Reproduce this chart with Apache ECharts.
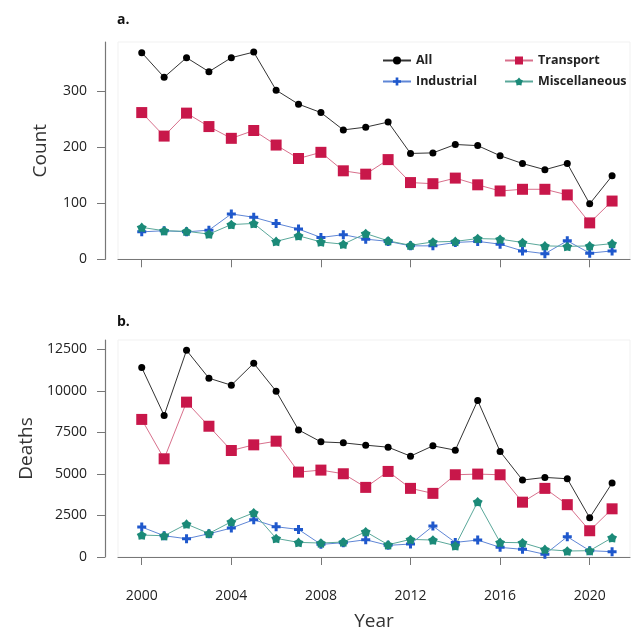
<!DOCTYPE html>
<html>
<head>
<meta charset="utf-8">
<script src="https://cdn.jsdelivr.net/npm/echarts@6/dist/echarts.min.js"></script>
<style>
  html, body { margin: 0; padding: 0; background: #fff; }
  #chart { width: 635px; height: 633px; }
</style>
</head>
<body>
<div id="chart"></div>
<script>
// 数据
const years = [2000, 2001, 2002, 2003, 2004, 2005, 2006, 2007, 2008, 2009, 2010,
  2011, 2012, 2013, 2014, 2015, 2016, 2017, 2018, 2019, 2020, 2021]
const xTicks = [2000, 2004, 2008, 2012, 2016, 2020]
const countTicks = [0, 100, 200, 300]
const deathTicks = [0, 2500, 5000, 7500, 10000, 12500]

// a. Count
const countAll = [369, 325, 360, 335, 360, 370, 302, 277, 262, 231, 236,
  245, 189, 190, 205, 203, 185, 171, 160, 171, 99, 149]
const countTransport = [262, 220, 261, 237, 216, 230, 204, 180, 191, 158, 152,
  178, 137, 135, 145, 133, 122, 125, 125, 115, 65, 104]
const countIndustrial = [49, 51, 49, 52, 81, 75, 64, 54, 39, 44, 36,
  32, 24, 24, 30, 32, 27, 15, 10, 33, 11, 15]
const countMisc = [57, 51, 50, 45, 62, 64, 32, 42, 31, 27, 46,
  33, 25, 31, 32, 37, 36, 30, 24, 23, 24, 28]

// b. Deaths
const deathAll = [11400, 8520, 12440, 10760, 10340, 11660, 9980, 7650, 6930, 6870, 6730,
  6610, 6070, 6690, 6430, 9420, 6350, 4630, 4790, 4710, 2360, 4450]
const deathTransport = [8280, 5910, 9320, 7870, 6410, 6750, 6970, 5110, 5230, 5010, 4190,
  5150, 4130, 3830, 4950, 4990, 4950, 3300, 4130, 3150, 1580, 2900]
const deathIndustrial = [1800, 1280, 1100, 1400, 1740, 2240, 1820, 1660, 760, 860, 1040,
  700, 780, 1860, 880, 1020, 580, 460, 160, 1220, 380, 320]
const deathMisc = [1320, 1280, 1980, 1420, 2120, 2660, 1120, 880, 840, 900, 1520,
  740, 1060, 1020, 680, 3320, 880, 860, 460, 360, 380, 1160]

const font = 'Open Sans'
const axisGrey = '#777'

// 符号
const plusPath = 'path://M3,0h3v3h3v3h-3v3h-3v-3h-3v-3h3z'
const starPath = 'path://M0,-10L4.11,-5.66L9.51,-3.09L6.66,2.16L5.88,8.09L0,7L-5.88,8.09L-6.66,2.16L-9.51,-3.09L-4.11,-5.66Z'

const styles = {
  All: { color: '#000000', line: '#333333', symbol: 'circle', size: 7 },
  Transport: { color: '#c8174a', line: '#d8708c', symbol: 'rect', size: 11 },
  Industrial: { color: '#1f58cc', line: '#5f86d6', symbol: plusPath, size: 9 },
  Miscellaneous: { color: '#1b8a78', line: '#5aa89a', symbol: starPath, size: 10 }
}

function pairs(vals) {
  return years.map((y, i) => [y, vals[i]])
}

function makeSeries(name, vals, idx) {
  const s = styles[name]
  return {
    name: name,
    type: 'line',
    xAxisIndex: idx,
    yAxisIndex: idx,
    data: pairs(vals),
    symbol: s.symbol,
    symbolSize: s.size,
    symbolKeepAspect: true,
    showSymbol: true,
    itemStyle: { color: s.color },
    lineStyle: { color: s.line, width: 1 },
    emphasis: { disabled: true },
    animation: false
  }
}

function plain(v) {
  return String(v)
}

function xAxis(idx, showLabels) {
  return {
    type: 'value',
    gridIndex: idx,
    min: 1998.94,
    max: 2021.8,
    offset: 13,
    splitLine: { show: false },
    axisLine: { show: true, lineStyle: { color: axisGrey, width: 1.2 } },
    axisTick: { show: true, customValues: xTicks, length: 8, lineStyle: { color: axisGrey } },
    axisLabel: {
      show: showLabels,
      customValues: xTicks,
      formatter: plain,
      margin: 19,
      fontFamily: font,
      fontSize: 14,
      color: '#222'
    },
    name: showLabels ? 'Year' : '',
    nameLocation: 'middle',
    nameGap: 42,
    nameTextStyle: { fontFamily: font, fontSize: 19, color: '#333' }
  }
}

function yAxis(idx, max, ticks, name, gap) {
  return {
    type: 'value',
    gridIndex: idx,
    min: 0,
    max: max,
    offset: 13,
    splitLine: { show: false },
    axisLine: { show: true, lineStyle: { color: axisGrey, width: 1.2 } },
    axisTick: { show: true, customValues: ticks, length: 8, lineStyle: { color: axisGrey } },
    axisLabel: {
      customValues: ticks,
      formatter: plain,
      margin: 18,
      fontFamily: font,
      fontSize: 14,
      color: '#222'
    },
    name: name,
    nameLocation: 'middle',
    nameGap: gap,
    nameTextStyle: { fontFamily: font, fontSize: 19, color: '#333' }
  }
}

const legendText = { fontFamily: font, fontSize: 12.5, fontWeight: 'bold', color: '#222' }

const option = {
  backgroundColor: '#ffffff',
  animation: false,
  title: [
    { text: 'a.', left: 112, top: 8, textStyle: { fontFamily: font, fontSize: 14, fontWeight: 'bold', color: '#111' } },
    { text: 'b.', left: 112, top: 310, textStyle: { fontFamily: font, fontSize: 14, fontWeight: 'bold', color: '#111' } }
  ],
  legend: [
    {
      data: ['All', 'Industrial'],
      orient: 'vertical',
      left: 377,
      top: 49,
      itemWidth: 28,
      itemHeight: 10,
      itemGap: 8,
      textStyle: legendText
    },
    {
      data: ['Transport', 'Miscellaneous'],
      orient: 'vertical',
      left: 499,
      top: 49,
      itemWidth: 28,
      itemHeight: 10,
      itemGap: 8,
      textStyle: legendText
    }
  ],
  grid: [
    { left: 118, right: 5, top: 42, bottom: 373.7, show: true, borderColor: '#f1f1f1', borderWidth: 1 },
    { left: 118, right: 5, top: 340, bottom: 76, show: true, borderColor: '#f1f1f1', borderWidth: 1 }
  ],
  xAxis: [xAxis(0, false), xAxis(1, true)],
  yAxis: [
    yAxis(0, 388, countTicks, 'Count', 55),
    yAxis(1, 13060, deathTicks, 'Deaths', 64)
  ],
  series: [
    makeSeries('All', countAll, 0),
    makeSeries('Transport', countTransport, 0),
    makeSeries('Industrial', countIndustrial, 0),
    makeSeries('Miscellaneous', countMisc, 0),
    makeSeries('All', deathAll, 1),
    makeSeries('Transport', deathTransport, 1),
    makeSeries('Industrial', deathIndustrial, 1),
    makeSeries('Miscellaneous', deathMisc, 1)
  ]
}

const chart = echarts.init(document.getElementById('chart'))
chart.setOption(option)
</script>
</body>
</html>
